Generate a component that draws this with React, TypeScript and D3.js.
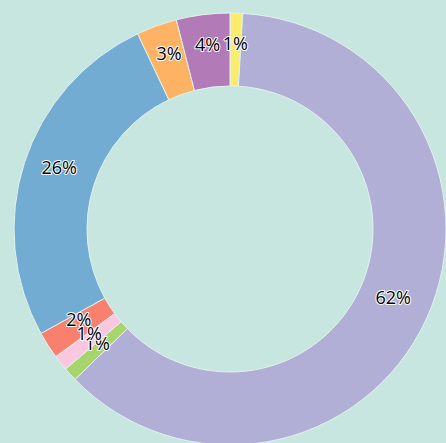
import React from "react";
import * as d3 from "d3";

const categories = ["A", "B", "C", "D", "E", "F", "G", "H"];
const values = [0.94, 61.8, 1.03, 1.17, 2.03, 26.0, 3.03, 4.0];
const colors = ["#faed6e", "#b2afd6", "#a8d46e", "#f9c8e0", "#f9806f", "#72acd3", "#fdb264", "#b27bb8"];

const W = 446;
const H = 443;
const CX = 230;
const CY = 229;
const R_OUT = 216;
const R_IN = 143;

export default function App() {
  const total = d3.sum(values);
  const pie = d3.pie<number>().sort(null).value((d) => d)(values);
  const arc = d3.arc<d3.PieArcDatum<number>>().innerRadius(R_IN).outerRadius(R_OUT);
  return (
    <svg width={W} height={H} style={{ position: "absolute", left: 0, top: 0 }}>
      <rect x={0} y={0} width={W} height={H} fill="#c6e6df" />
      <g transform={`translate(${CX},${CY})`}>
        {pie.map((p, i) => (
          <path key={categories[i]} d={arc(p) || ""} fill={colors[i]} stroke="#e4f2ee" strokeWidth={1} />
        ))}
        {pie.map((p, i) => {
          const [x, y] = arc.centroid(p);
          return (
            <text
              key={"t" + categories[i]}
              x={x}
              y={y}
              textAnchor="middle"
              fontFamily="'Open Sans', sans-serif"
              fontSize={18}
              fill="#000"
              stroke="#ffffff"
              strokeWidth={2}
              strokeLinejoin="round"
              style={{ paintOrder: "stroke" }}
            >
              {d3.format(".0f")((values[i] / total) * 100) + "%"}
            </text>
          );
        })}
      </g>
    </svg>
  );
}
